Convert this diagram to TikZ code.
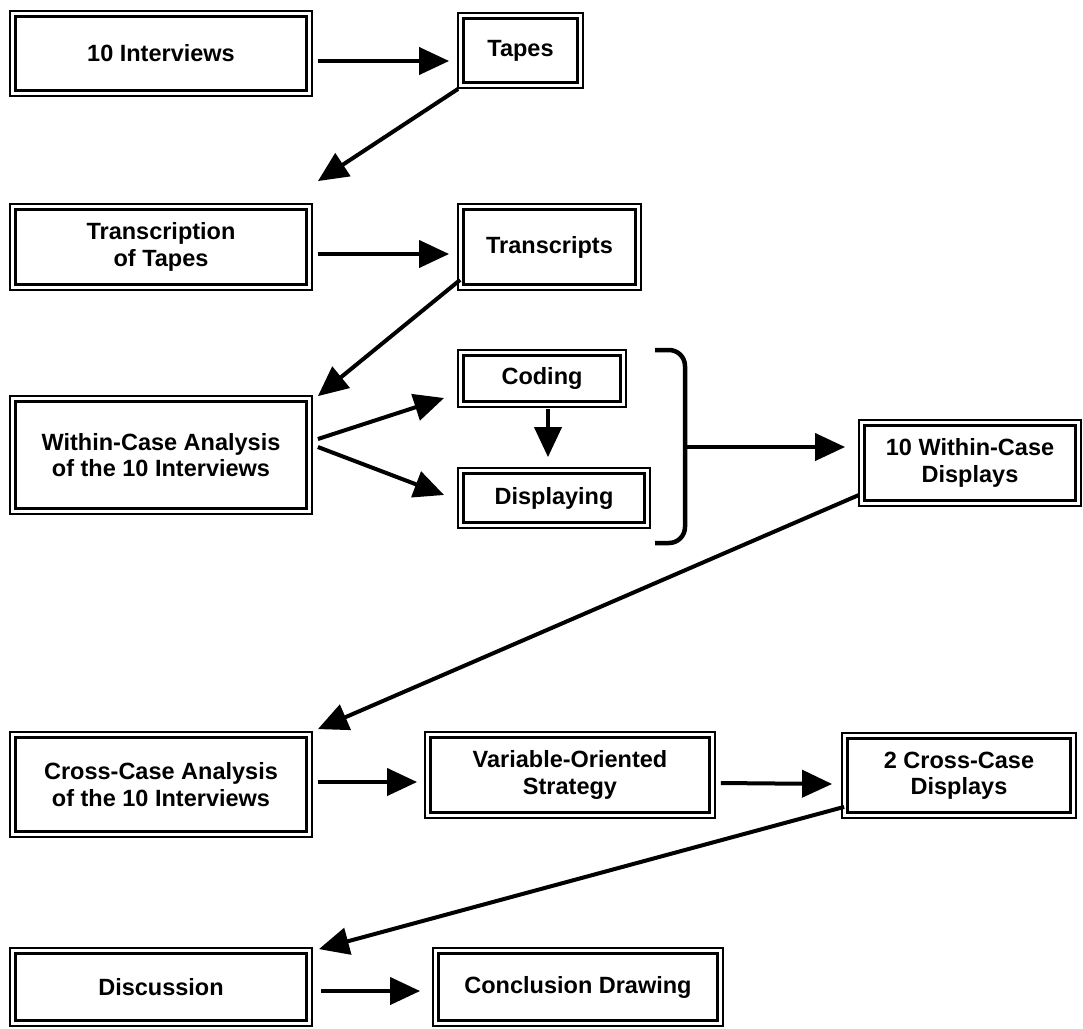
\documentclass[tikz,border=0pt]{standalone}
\usepackage{fontspec}
\setmainfont{Liberation Sans}
\usetikzlibrary{arrows.meta,calc}
\begin{document}
\begin{tikzpicture}[x=1pt,y=-1pt,
  dbox/.style 2 args={draw, line width=1.8pt, minimum width=#1, minimum height=#2,
    inner sep=0pt, align=center, font=\bfseries\fontsize{23.5}{26.5}\selectfont,
    path picture={\draw[line width=3pt]
      ([shift={(5.4pt,-5.4pt)}]path picture bounding box.north west) rectangle
      ([shift={(-5.4pt,5.4pt)}]path picture bounding box.south east);}},
  arr/.style={line width=4pt, -{Triangle[length=30pt,width=27pt]}},
  brace/.style={line width=4.5pt, rounded corners=16pt},
]
\fill[white] (0,0) rectangle (1083,1028);
\useasboundingbox (0,0) rectangle (1083,1028);

% boxes
\node[dbox={302pt}{85pt}]  (int)      at (161,53.5)  {10 Interviews};
\node[dbox={125pt}{75pt}]  (tapes)    at (520.5,50.5) {Tapes};
\node[dbox={302pt}{86pt}]  (trans)    at (161,247)   {Transcription\\of Tapes};
\node[dbox={183pt}{86pt}]  (tscripts) at (549.5,247) {Transcripts};
\node[dbox={302pt}{118pt}] (within)   at (161,455)   {Within-Case Analysis\\of the 10 Interviews};
\node[dbox={168pt}{57pt}]  (coding)   at (542,378.5) {Coding};
\node[dbox={192pt}{60pt}]  (disp)     at (554,498)   {Displaying};
\node[dbox={222pt}{86pt}]  (wcd)      at (970,463)   {10 Within-Case\\Displays};
\node[dbox={302pt}{105pt}] (cross)    at (161,784.5) {Cross-Case Analysis\\of the 10 Interviews};
\node[dbox={290pt}{86pt}]  (var)      at (570,775)   {Variable-Oriented\\Strategy};
\node[dbox={234pt}{85pt}]  (ccd)      at (959,775.5) {2 Cross-Case\\Displays};
\node[dbox={302pt}{78pt}]  (disc)     at (161,987)   {Discussion};
\node[dbox={290pt}{78pt}]  (concl)    at (578,987)   {Conclusion Drawing};

% bracket grouping coding and displaying
\draw[brace] (655,350) -- (685,350) -- (685,543) -- (655,543);
\coordinate (brmid) at (685,447);

% connectors
\draw[arr] ($(int.east)+(5,7.5)$) -- ($(tapes.west)+(-8,10.5)$);
\draw[arr] ($(tapes.south west)+(1,0)$) -- ($(trans.north east)+(5,-22)$);
\draw[arr] ($(trans.east)+(5,7)$) -- ($(tscripts.west)+(-8,7)$);
\draw[arr] ($(tscripts.south west)+(3,-11)$) -- ($(within.north east)+(5,1)$);
\draw[arr] ($(within.east)+(5,-16)$) -- ($(coding.west)+(-13,19.5)$);
\draw[arr] ($(within.east)+(5,-8)$) -- ($(disp.west)+(-13,-3)$);
\draw[arr] ($(coding.south)+(6,1)$) -- ($(disp.north)+(-6,-10)$);
\draw[arr] (brmid) -- ($(wcd.west)+(-13,-16)$);
\draw[arr] ($(wcd.south west)+(1,-12)$) -- ($(cross.north east)+(5,-2)$);
\draw[arr] ($(cross.east)+(5,-2.5)$) -- ($(var.west)+(-7,7)$);
\draw[arr] ($(var.east)+(5,8)$) -- ($(ccd.west)+(-9,8.5)$);
\draw[arr] ($(ccd.south west)+(3,-12)$) -- ($(disc.north east)+(6,2)$);
\draw[arr] ($(disc.east)+(8,4)$) -- ($(concl.west)+(-12,4)$);
\end{tikzpicture}
\end{document}
